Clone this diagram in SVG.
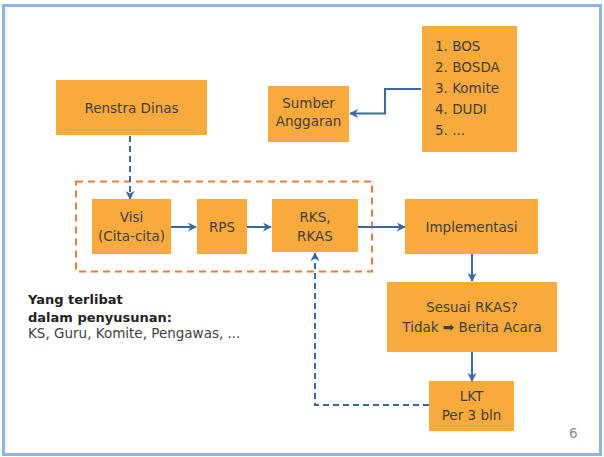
<svg xmlns="http://www.w3.org/2000/svg" width="604" height="457" viewBox="0 0 604 457">
<defs>
<marker id="ah" viewBox="0 0 10 10" refX="9" refY="5" markerWidth="9" markerHeight="9" markerUnits="userSpaceOnUse" orient="auto">
<path d="M0,0 L10,5 L0,10 L3,5 Z" fill="#3A6A9E"/>
</marker>
</defs>
<style>
.box{fill:#F9AA3C;stroke:none}
.t{font-family:"DejaVu Sans","Verdana",sans-serif;font-size:13.5px;fill:#3F3F3F;text-anchor:middle}
.tl{font-family:"DejaVu Sans","Verdana",sans-serif;font-size:13.5px;fill:#3F3F3F}
.b{font-weight:bold;fill:#222;font-size:13px}
.c{fill:none;stroke:#3A6A9E;stroke-width:2}
.d{fill:none;stroke:#3A6A9E;stroke-width:2;stroke-dasharray:6,4}
</style>
<rect x="0" y="0" width="604" height="457" fill="#fff"/>
<rect x="3.5" y="5.5" width="597" height="449" fill="none" stroke="#8EB4E3" stroke-width="3"/>
<rect x="76" y="181.5" width="296" height="90" fill="none" stroke="#EE7C3A" stroke-width="2" stroke-dasharray="7,5"/>

<g id="connectors">
<polyline class="c" points="421,89 385,89 385,113.5 350,113.5" marker-end="url(#ah)"/>
<line class="d" x1="130" y1="136" x2="130" y2="199" marker-end="url(#ah)"/>
<line class="c" x1="171" y1="227" x2="196" y2="227" marker-end="url(#ah)"/>
<line class="c" x1="247" y1="227" x2="271" y2="227" marker-end="url(#ah)"/>
<line class="c" x1="358" y1="227" x2="405" y2="227" marker-end="url(#ah)"/>
<line class="c" x1="472" y1="254" x2="472" y2="281" marker-end="url(#ah)"/>
<line class="c" x1="472" y1="352" x2="472" y2="381" marker-end="url(#ah)"/>
<polyline class="d" points="429,405 315,405 315,253" marker-end="url(#ah)"/>
</g>

<g id="renstra">
<rect class="box" x="56" y="80" width="151" height="55"/>
<text class="t" x="131.5" y="112.5">Renstra Dinas</text>
</g>
<g id="sumber">
<rect class="box" x="268" y="86" width="81" height="56"/>
<text class="t" x="308.5" y="107.5">Sumber</text>
<text class="t" x="308.5" y="125.5">Anggaran</text>
</g>
<g id="list">
<rect class="box" x="422" y="26" width="95" height="126"/>
<text class="tl" x="435" y="51">1. BOS</text>
<text class="tl" x="435" y="72">2. BOSDA</text>
<text class="tl" x="435" y="93">3. Komite</text>
<text class="tl" x="435" y="114">4. DUDI</text>
<text class="tl" x="435" y="135">5. ...</text>
</g>
<g id="visi">
<rect class="box" x="92" y="199" width="79" height="55"/>
<text class="t" x="131.5" y="222">Visi</text>
<text class="t" x="131.5" y="241">(Cita-cita)</text>
</g>
<g id="rps">
<rect class="box" x="197" y="199" width="50" height="55"/>
<text class="t" x="222" y="231.5">RPS</text>
</g>
<g id="rks">
<rect class="box" x="272" y="199" width="86" height="53"/>
<text class="t" x="315" y="222">RKS,</text>
<text class="t" x="315" y="241">RKAS</text>
</g>
<g id="implementasi">
<rect class="box" x="405" y="199" width="133" height="55"/>
<text class="t" x="471.5" y="231.5">Implementasi</text>
</g>
<g id="sesuai">
<rect class="box" x="387" y="282" width="170" height="70"/>
<text class="t" x="472" y="311.5">Sesuai RKAS?</text>
<text class="t" x="472" y="331.5">Tidak ➡ Berita Acara</text>
</g>
<g id="lkt">
<rect class="box" x="429" y="381" width="85" height="50"/>
<text class="t" x="471.5" y="401">LKT</text>
<text class="t" x="471.5" y="420">Per 3 bln</text>
</g>
<g id="note">
<text class="tl b" x="28" y="304">Yang terlibat</text>
<text class="tl b" x="28" y="321.5">dalam penyusunan:</text>
<text class="tl" x="28" y="338">KS, Guru, Komite, Pengawas, ...</text>
</g>
<text class="tl" x="569" y="438" style="fill:#8a8a8a">6</text>
</svg>
